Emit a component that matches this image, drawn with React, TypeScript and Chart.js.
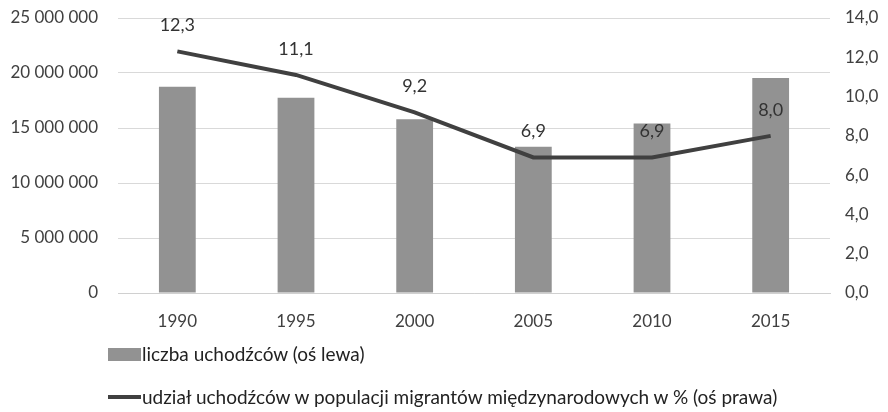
import React, { useEffect, useRef } from "react";
import { Chart, registerables } from "chart.js";

Chart.register(...registerables);

const categories = ["1990", "1995", "2000", "2005", "2010", "2015"];
const refugees = [18750000, 17750000, 15800000, 13300000, 15400000, 19550000];
const sharePct = [12.3, 11.1, 9.2, 6.9, 6.9, 8.0];
const leftTicks = [0, 5000000, 10000000, 15000000, 20000000, 25000000];
const rightTicks = [0, 2, 4, 6, 8, 10, 12, 14];
const barLabel = "liczba uchodźców (oś lewa)";
const lineLabel = "udział uchodźców w populacji migrantów międzynarodowych w % (oś prawa)";

const FONT = "Lato, 'Open Sans', sans-serif";
const BAR_COLOR = "#929292";
const LINE_COLOR = "#404040";
const TEXT_COLOR = "#404040";

const fmtLeft = (v: number) =>
  String(Math.round(v)).replace(/\B(?=(\d{3})+(?!\d))/g, " ");
const fmtRight = (v: number) => v.toFixed(1).replace(".", ",");

const lineLabelsPlugin = {
  id: "lineLabels",
  afterDatasetsDraw(chart: any) {
    const meta = chart.getDatasetMeta(1);
    const ctx = chart.ctx;
    ctx.save();
    ctx.font = `18px ${FONT}`;
    ctx.fillStyle = "#333333";
    ctx.textAlign = "center";
    ctx.textBaseline = "middle";
    meta.data.forEach((pt: any, i: number) => {
      ctx.fillText(fmtRight(sharePct[i]), pt.x, pt.y - 26);
    });
    ctx.restore();
  },
};

export default function App() {
  const ref = useRef<HTMLCanvasElement>(null);
  useEffect(() => {
    if (!ref.current) return;
    const chart = new Chart(ref.current, {
      type: "bar",
      data: {
        labels: categories,
        datasets: [
          {
            type: "bar",
            label: barLabel,
            data: refugees,
            backgroundColor: BAR_COLOR,
            yAxisID: "y",
            categoryPercentage: 1,
            barPercentage: 0.31,
            order: 2,
          },
          {
            type: "line",
            label: lineLabel,
            data: sharePct,
            borderColor: LINE_COLOR,
            borderWidth: 4,
            pointRadius: 0,
            tension: 0,
            yAxisID: "y1",
            order: 1,
          } as any,
        ],
      },
      options: {
        animation: false,
        responsive: false,
        layout: { padding: { top: 18, left: 0, right: 0, bottom: 0 } },
        plugins: {
          legend: { display: false },
          tooltip: { enabled: false },
        },
        scales: {
          x: {
            grid: { display: false, drawTicks: false },
            border: { display: true, color: "#d0d0d0" },
            ticks: {
              color: TEXT_COLOR,
              font: { family: FONT, size: 17 },
              padding: 18,
            },
            afterFit(scale: any) {
              scale.height = 119;
              scale.paddingLeft = 0;
              scale.paddingRight = 0;
            },
          },
          y: {
            position: "left",
            min: 0,
            max: 25000000,
            afterBuildTicks(scale: any) {
              scale.ticks = leftTicks.map((v) => ({ value: v }));
            },
            grid: { color: "#d9d9d9", drawTicks: false },
            border: { display: false },
            ticks: {
              color: TEXT_COLOR,
              font: { family: FONT, size: 17 },
              padding: 20,
              callback: (v: any) => fmtLeft(Number(v)),
            },
            afterFit(scale: any) {
              scale.width = 118;
              scale.paddingTop = 0;
              scale.paddingBottom = 0;
            },
          },
          y1: {
            position: "right",
            min: 0,
            max: 14,
            afterBuildTicks(scale: any) {
              scale.ticks = rightTicks.map((v) => ({ value: v }));
            },
            grid: { display: false, drawTicks: false },
            border: { display: false },
            ticks: {
              color: TEXT_COLOR,
              font: { family: FONT, size: 17 },
              padding: 15,
              callback: (v: any) => fmtRight(Number(v)),
            },
            afterFit(scale: any) {
              scale.width = 58;
              scale.paddingTop = 0;
              scale.paddingBottom = 0;
            },
          },
        },
      },
      plugins: [lineLabelsPlugin],
    });
    return () => chart.destroy();
  }, []);

  return (
    <div style={{ position: "fixed", left: 0, top: 0, width: 888, height: 412, background: "#fff" }}>
      <canvas ref={ref} width={888} height={412} style={{ display: "block" }} />
      <div
        style={{
          position: "absolute",
          left: 108,
          top: 343,
          fontFamily: FONT,
          fontSize: 19,
          color: "#222",
          lineHeight: "22px",
        }}
      >
        <div style={{ display: "flex", alignItems: "center", height: 22, whiteSpace: "nowrap" }}>
          <span style={{ display: "inline-block", width: 33, height: 13, background: BAR_COLOR, marginRight: 1 }} />
          <span>{barLabel}</span>
        </div>
        <div style={{ display: "flex", alignItems: "center", height: 22, marginTop: 21, whiteSpace: "nowrap" }}>
          <span style={{ display: "inline-block", width: 33, height: 4, background: LINE_COLOR, marginRight: 1 }} />
          <span>{lineLabel}</span>
        </div>
      </div>
    </div>
  );
}
